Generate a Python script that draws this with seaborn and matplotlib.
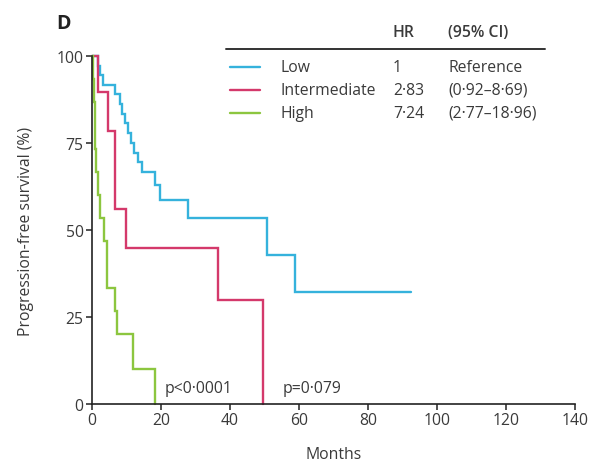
import matplotlib
matplotlib.use("Agg")
import matplotlib.pyplot as plt
from matplotlib.lines import Line2D
import numpy as np
import pandas as pd
import seaborn as sns

# Kaplan-Meier step curves: event times (months) and survival (%)
low_t = [0, 1.6, 2.4, 3.2, 6.8, 8.0, 8.8, 9.6, 10.4, 11.2, 12.2, 13.2, 14.4, 18.3, 19.8, 27.9, 50.6, 58.8, 92.6]
low_s = [100, 97.2, 94.6, 91.8, 89.0, 86.2, 83.4, 80.6, 77.8, 75.0, 72.2, 69.4, 66.7, 62.8, 58.7, 53.4, 42.8, 32.1, 32.1]

mid_t = [0, 1.6, 4.7, 6.7, 10.0, 36.6, 49.7]
mid_s = [100, 89.6, 78.4, 56.0, 44.8, 29.9, 0]

high_t = [0, 0.4, 0.6, 0.8, 1.0, 1.2, 1.8, 2.4, 3.4, 4.4, 6.6, 7.2, 11.9, 18.3]
high_s = [100, 93.3, 86.7, 80.0, 73.3, 66.7, 60.0, 53.3, 46.7, 33.3, 26.7, 20.0, 10.0, 0]

groups = ["Low", "Intermediate", "High"]
hr = ["1", "2·83", "7·24"]
ci = ["Reference", "(0·92–8·69)", "(2·77–18·96)"]
colors = ["#35b2dc", "#d4396b", "#8cc63f"]

x_ticks = [0, 20, 40, 60, 80, 100, 120, 140]
y_ticks = [0, 25, 50, 75, 100]

df = pd.concat([
    pd.DataFrame({"Months": low_t, "PFS": low_s, "group": "Low"}),
    pd.DataFrame({"Months": mid_t, "PFS": mid_s, "group": "Intermediate"}),
    pd.DataFrame({"Months": high_t, "PFS": high_s, "group": "High"}),
], ignore_index=True)

sns.set_theme(style="white")
plt.rcParams["font.family"] = ["Open Sans", "DejaVu Sans"]
txt = "#3a3a3a"
fs = 11.3

fig = plt.figure(figsize=(5.95, 4.64), dpi=100)
ax = fig.add_axes([0.1546, 0.1272, 0.8118, 0.75])

sns.lineplot(data=df, x="Months", y="PFS", hue="group", hue_order=groups,
             palette=colors, drawstyle="steps-post", estimator=None,
             sort=False, legend=False, linewidth=1.7, ax=ax)
for ln in ax.lines:
    ln.set_clip_on(False)
    ln.set_solid_joinstyle("miter")

ax.set_xlim(0, 140)
ax.set_ylim(0, 100)
ax.set_xticks(x_ticks)
ax.set_yticks(y_ticks)
for side in ["top", "right"]:
    ax.spines[side].set_visible(False)
for side in ["left", "bottom"]:
    ax.spines[side].set_color("#222222")
    ax.spines[side].set_linewidth(1.2)
ax.tick_params(axis="both", direction="out", length=4, width=1.1,
               color="#222222", labelsize=fs, labelcolor=txt, pad=2,
               bottom=True, left=True)
ax.set_xlabel("Months", fontsize=fs, color=txt, labelpad=13)
ax.set_ylabel("Progression-free survival (%)", fontsize=fs, color=txt, labelpad=16)

ax.text(0.151, 0.034, "p<0·0001", transform=ax.transAxes, fontsize=fs, color=txt)
ax.text(0.395, 0.034, "p=0·079", transform=ax.transAxes, fontsize=fs, color=txt)

# panel letter
fig.text(64 / 595, 1 - 24 / 464, "D", fontsize=14, fontweight="bold",
         color="#222222", ha="center", va="center")

# hazard-ratio table used as legend
def fx(px):
    return px / 595

def fy(py):
    return 1 - py / 464

fig.text(fx(393), fy(33), "HR", fontsize=fs, fontweight="semibold", color=txt, va="center")
fig.text(fx(448), fy(33), "(95% CI)", fontsize=fs, fontweight="semibold", color=txt, va="center")
fig.add_artist(Line2D([fx(226), fx(545)], [fy(50), fy(50)], color="#333333", lw=1.4))
rows_y = [68, 91, 114]
for g, h, c, col, ry in zip(groups, hr, ci, colors, rows_y):
    fig.add_artist(Line2D([fx(230), fx(260)], [fy(ry), fy(ry)], color=col, lw=1.7))
    fig.text(fx(280), fy(ry), g, fontsize=fs, color=txt, va="center")
    fig.text(fx(393), fy(ry), h, fontsize=fs, color=txt, va="center")
    fig.text(fx(448), fy(ry), c, fontsize=fs, color=txt, va="center")

fig.savefig("out.png", dpi=100)
